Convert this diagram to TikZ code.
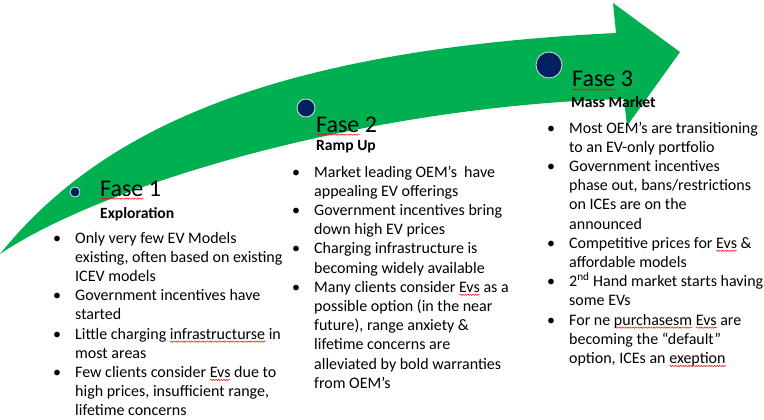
\documentclass[tikz,border=0pt]{standalone}
\usepackage{fontspec}
\setmainfont{Carlito}
\usetikzlibrary{decorations.pathmorphing}

\definecolor{arrowgreen}{HTML}{00B050}
\definecolor{dotblue}{HTML}{002060}

% red spell-check wave under a word
\newdimen\sperrwd
\newcommand\sperr[1]{\setbox0=\hbox{#1}\sperrwd=\wd0
  \rlap{\tikz[baseline=0pt,x=1pt,y=1pt]\draw[red,line width=0.45pt,decorate,
    decoration={snake,amplitude=0.7pt,segment length=2.6pt}] (0,-2.6) -- (\the\sperrwd,-2.6);}#1}
\newcommand\bpt{\llap{\textbullet\hspace{14pt}}}

\tikzset{
  phasedot/.style={circle, fill=dotblue, draw=white!75!gray, line width=0.8pt, inner sep=0pt},
  phasetitle/.style={anchor=base west, inner sep=0pt, font=\fontsize{24}{28}\selectfont},
  phasesub/.style={anchor=base west, inner sep=0pt, font=\bfseries\fontsize{15.6}{18}\selectfont},
  % anchored at the baseline of the last line
  phaselist/.style={anchor=base west, inner sep=0pt, align=left, font=\fontsize{16}{19.2}\selectfont},
}

\begin{document}
\begin{tikzpicture}[x=1pt,y=-1pt]
  \useasboundingbox (0,0) rectangle (764,420);
  % the arrow
  \fill[arrowgreen] (0,254) .. controls (100,130) and (270,50) .. (616,33)
    -- (613,3) -- (680,52) -- (627,126) -- (624,99)
    .. controls (380,105) and (110,180) .. (0,254) -- cycle;

  \node[phasedot, minimum size=10pt] (dot1) at (75,192) {};
  \node[phasedot, minimum size=18pt] (dot2) at (306,108) {};
  \node[phasedot, minimum size=26pt] (dot3) at (549,65) {};

  % Fase 1
  \node[phasetitle] (title1) at (100,196) {\sperr{Fase} 1};
  \node[phasesub] (sub1) at (100,218) {Exploration};
  \node[phaselist] (list1) at (75,415.8) {%
    \bpt Only very few EV Models\\
    existing, often based on existing\\
    ICEV models\\
    \bpt Government incentives have\\
    started\\
    \bpt Little charging \sperr{infrastructurse} in\\
    most areas\\
    \bpt Few clients consider \sperr{Evs} due to\\
    high prices, insufficient range,\\
    lifetime concerns};

  % Fase 2
  \node[phasetitle] (title2) at (316,132) {\sperr{Fase} 2};
  \node[phasesub] (sub2) at (316,150) {Ramp Up};
  \node[phaselist] (list2) at (314,388.2) {%
    \bpt Market leading OEM’s\ \ have\\
    appealing EV offerings\\
    \bpt Government incentives bring\\
    down high EV prices\\
    \bpt Charging infrastructure is\\
    becoming widely available\\
    \bpt Many clients consider \sperr{Evs} as a\\
    possible option (in the near\\
    future), range anxiety \&\\
    lifetime concerns are\\
    alleviated by bold warranties\\
    from OEM’s};

  % Fase 3
  \node[phasetitle] (title3) at (572,87) {\sperr{Fase} 3};
  \node[phasesub] (sub3) at (571,107) {Mass Market};
  \node[phaselist] (list3) at (569,363.4) {%
    \bpt Most OEM’s are transitioning\\
    to an EV-only portfolio\\
    \bpt Government incentives\\
    phase out, bans/restrictions\\
    on ICEs are on the\\
    announced\\
    \bpt Competitive prices for \sperr{Evs} \&\\
    affordable models\\
    \bpt 2\textsuperscript{nd} Hand market starts having\\
    some EVs\\
    \bpt For ne \sperr{purchasesm} \sperr{Evs} are\\
    becoming the “default”\\
    option, ICEs an \sperr{exeption}};
\end{tikzpicture}
\end{document}
